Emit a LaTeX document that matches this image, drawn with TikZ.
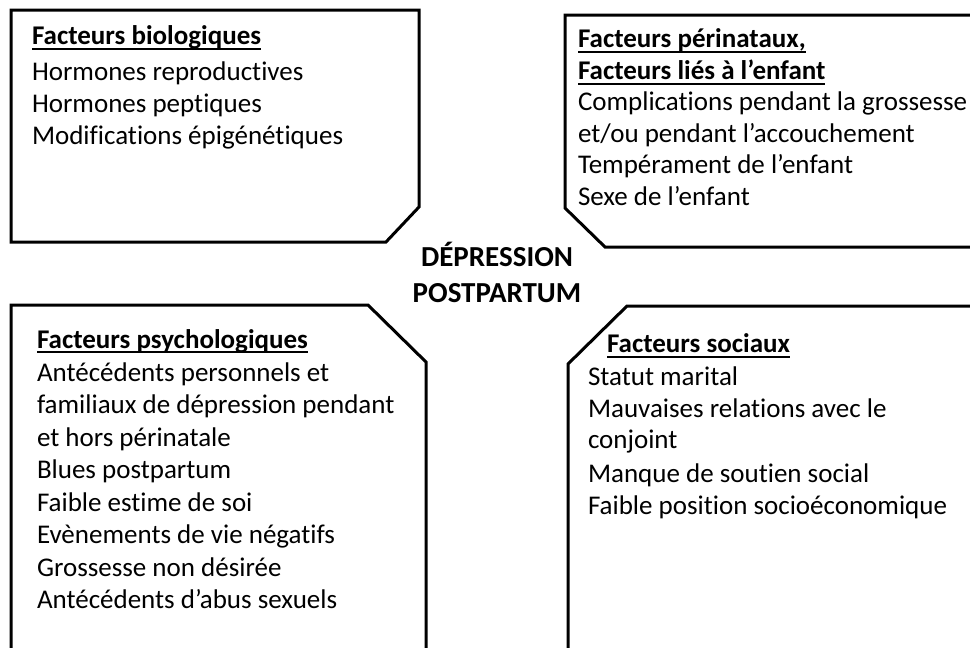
\documentclass[tikz,border=0pt]{standalone}
\usepackage{fontspec}
\setmainfont[Ligatures=NoCommon]{Carlito}
\begin{document}
\begin{tikzpicture}[x=1pt,y=-1pt,
  frame/.style={line width=3pt,line join=miter,draw=black},
  txt/.style={anchor=base west,inner sep=0pt,outer sep=0pt,font=\fontsize{27}{32}\selectfont},
  ttl/.style={txt,font=\fontsize{27}{32}\selectfont\bfseries},
  ul/.style={line width=1.8pt},
  ctr/.style={anchor=base,inner sep=0pt,font=\fontsize{29}{34}\selectfont\bfseries}]
\useasboundingbox (0,0) rectangle (970,648);
\clip (0,0) rectangle (970,648);
% frames
\draw[frame] (11,10) -- (419,10) -- (419,207) -- (386,242) -- (11,242) -- cycle;
\draw[frame] (990,15) -- (565,15) -- (565,208) -- (605,247) -- (990,247);
\draw[frame] (11,670) -- (11,305) -- (368,305) -- (426,362) -- (426,670);
\draw[frame] (568,670) -- (568,364) -- (627,306) -- (990,306);
% centre
\node[ctr] (c1) at (497,266) {DÉPRESSION};
\node[ctr] (c2) at (497,302) {POSTPARTUM};
% top left
\node[ttl] (t1) at (32,44) {Facteurs biologiques};
\draw[ul] ([yshift=-5pt]t1.base west) -- ([yshift=-5pt]t1.base east);
\node[txt] (a1) at (32,80) {Hormones reproductives};
\node[txt] (a2) at (32,112) {Hormones peptiques};
\node[txt] (a3) at (32,144) {Modifications épigénétiques};
% top right
\node[ttl] (t2) at (578,47) {Facteurs périnataux,};
\draw[ul] ([yshift=-5pt]t2.base west) -- ([yshift=-5pt]t2.base east);
\node[ttl] (t3) at (578,79) {Facteurs liés à l’enfant};
\draw[ul] ([yshift=-5pt]t3.base west) -- ([yshift=-5pt]t3.base east);
\node[txt] (b1) at (578,110) {Complications pendant la grossesse};
\node[txt] (b2) at (578,142) {et/ou pendant l’accouchement};
\node[txt] (b3) at (578,173) {Tempérament de l’enfant};
\node[txt] (b4) at (578,205) {Sexe de l’enfant};
% bottom left
\node[ttl] (t4) at (37,348) {Facteurs psychologiques};
\draw[ul] ([yshift=-4pt]t4.base west) -- ([yshift=-4pt]t4.base east);
\node[txt] (d1) at (37,381) {Antécédents personnels et};
\node[txt] (d2) at (37,413) {familiaux de dépression pendant};
\node[txt] (d3) at (37,446) {et hors périnatale};
\node[txt] (d4) at (37,478) {Blues postpartum};
\node[txt] (d5) at (37,511) {Faible estime de soi};
\node[txt] (d6) at (37,543) {Evènements de vie négatifs};
\node[txt] (d7) at (37,576) {Grossesse non désirée};
\node[txt] (d8) at (37,608) {Antécédents d’abus sexuels};
% bottom right
\node[ttl] (t5) at (607,352) {Facteurs sociaux};
\draw[ul] ([yshift=-5pt]t5.base west) -- ([yshift=-5pt]t5.base east);
\node[txt] (e1) at (588,385) {Statut marital};
\node[txt] (e2) at (588,417) {Mauvaises relations avec le};
\node[txt] (e3) at (588,448) {conjoint};
\node[txt] (e4) at (588,482) {Manque de soutien social};
\node[txt] (e5) at (588,514) {Faible position socioéconomique};
\end{tikzpicture}
\end{document}
